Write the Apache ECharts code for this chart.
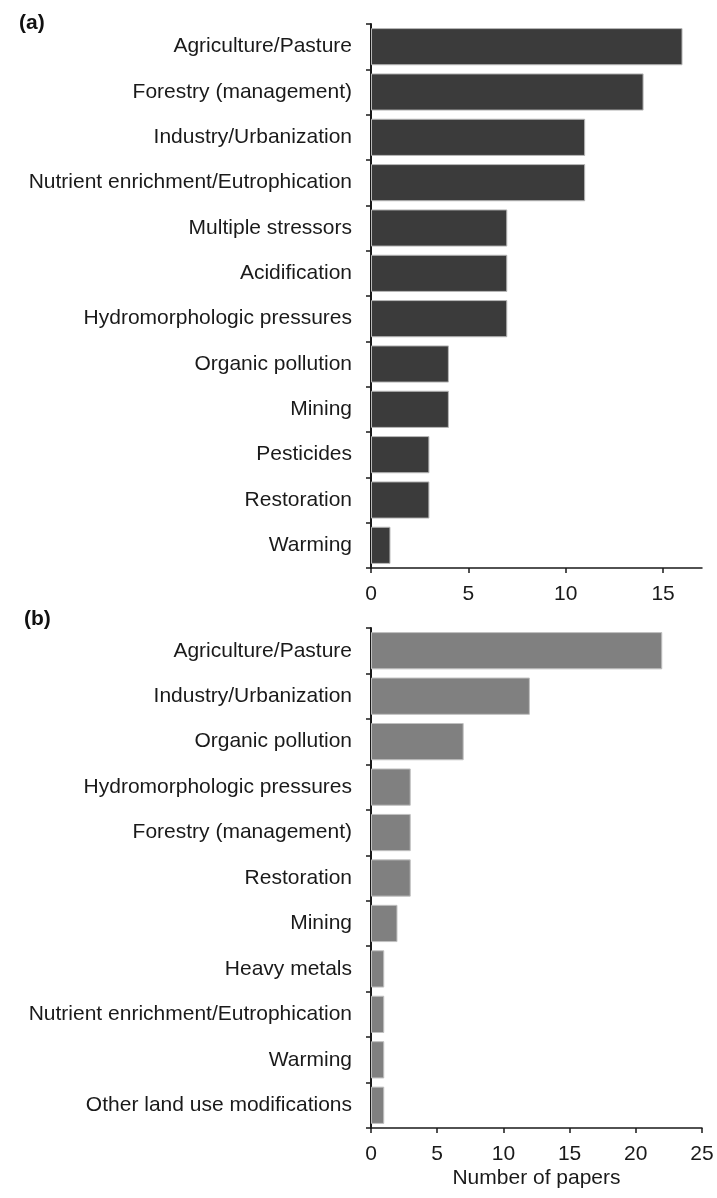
<!DOCTYPE html>
<html>
<head>
<meta charset="utf-8">
<script src="https://cdn.jsdelivr.net/npm/echarts@6/dist/echarts.min.js"></script>
<style>
html,body{margin:0;padding:0;background:#fff;}
#chart{width:717px;height:1198px;}
</style>
</head>
<body>
<div id="chart"></div>
<script>
const catsA = ["Agriculture/Pasture","Forestry (management)","Industry/Urbanization","Nutrient enrichment/Eutrophication","Multiple stressors","Acidification","Hydromorphologic pressures","Organic pollution","Mining","Pesticides","Restoration","Warming"];
const valsA = [16,14,11,11,7,7,7,4,4,3,3,1];
const catsB = ["Agriculture/Pasture","Industry/Urbanization","Organic pollution","Hydromorphologic pressures","Forestry (management)","Restoration","Mining","Heavy metals","Nutrient enrichment/Eutrophication","Warming","Other land use modifications"];
const valsB = [22,12,7,3,3,3,2,1,1,1,1];
const ticksA = [0,5,10,15];
const ticksB = [0,5,10,15,20,25];
const xTitle = "Number of papers";

const font = 'Liberation Sans, Arial, sans-serif';
const axisColor = '#1a1a1a';
const txtColor = '#1a1a1a';

const chart = echarts.init(document.getElementById('chart'));
const xAxisCommon = {
  type: 'value', min: 0, interval: 5,
  splitLine: {show: false},
  axisLine: {show: true, lineStyle: {color: axisColor, width: 1.5}},
  axisTick: {show: true, length: 5, lineStyle: {color: axisColor, width: 1.5}},
  axisLabel: {color: txtColor, fontSize: 21, fontFamily: font, margin: 16}
};
const yAxisCommon = {
  type: 'category', inverse: true,
  axisLine: {show: true, lineStyle: {color: axisColor, width: 2}},
  axisTick: {show: true, length: 5, lineStyle: {color: axisColor, width: 1.5}},
  axisLabel: {color: txtColor, fontSize: 21, fontFamily: font, margin: 19}
};
chart.setOption({
  animation: false,
  backgroundColor: '#fff',
  title: [
    {text: '(a)', left: 14, top: 8, textStyle: {fontSize: 21, fontWeight: 'bold', fontFamily: font, color: '#111'}},
    {text: '(b)', left: 19, top: 604, textStyle: {fontSize: 21, fontWeight: 'bold', fontFamily: font, color: '#111'}}
  ],
  grid: [
    {left: 371, right: 15, top: 24, height: 544},
    {left: 371, right: 15, top: 628, height: 500}
  ],
  xAxis: [
    Object.assign({}, xAxisCommon, {gridIndex: 0, max: 17,
      axisTick: Object.assign({}, xAxisCommon.axisTick, {customValues: ticksA}),
      axisLabel: Object.assign({}, xAxisCommon.axisLabel, {customValues: ticksA})}),
    Object.assign({}, xAxisCommon, {gridIndex: 1, max: 25,
      axisTick: Object.assign({}, xAxisCommon.axisTick, {customValues: ticksB}),
      axisLabel: Object.assign({}, xAxisCommon.axisLabel, {customValues: ticksB}),
      name: xTitle, nameLocation: 'middle', nameGap: 40,
      nameTextStyle: {color: txtColor, fontSize: 21, fontFamily: font}})
  ],
  yAxis: [
    Object.assign({}, yAxisCommon, {gridIndex: 0, data: catsA}),
    Object.assign({}, yAxisCommon, {gridIndex: 1, data: catsB})
  ],
  series: [
    {type: 'bar', xAxisIndex: 0, yAxisIndex: 0, data: valsA, barCategoryGap: '18%',
     itemStyle: {color: '#3b3b3b', borderColor: '#b8b8b8', borderWidth: 1}},
    {type: 'bar', xAxisIndex: 1, yAxisIndex: 1, data: valsB, barCategoryGap: '18%',
     itemStyle: {color: '#808080', borderColor: '#c0c0c0', borderWidth: 1}}
  ]
});
</script>
</body>
</html>
